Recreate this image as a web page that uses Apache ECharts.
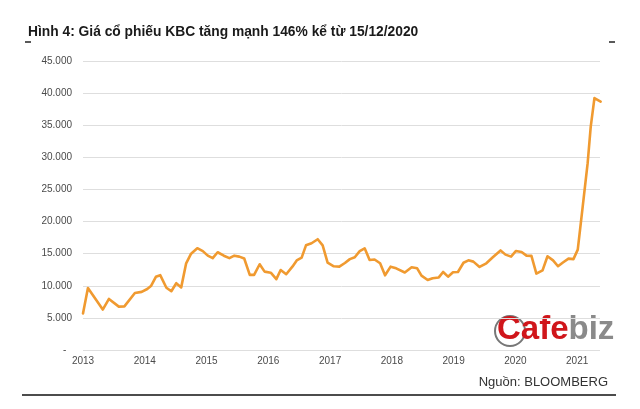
<!DOCTYPE html>
<html><head><meta charset="utf-8">
<script src="https://cdn.jsdelivr.net/npm/echarts@6/dist/echarts.min.js"></script>
<style>html,body{margin:0;padding:0;background:#fff}#c{width:640px;height:409px}</style>
</head><body><div id="c"></div>
<script>
// Time position of each traced point, in decimal years
const times = [
  2013.00, 2013.08, 2013.32, 2013.42, 2013.58, 2013.67, 2013.84, 2013.95,
  2014.04, 2014.10, 2014.18, 2014.25, 2014.35, 2014.43, 2014.51, 2014.59,
  2014.67, 2014.75, 2014.85, 2014.94, 2015.02, 2015.10, 2015.18, 2015.28,
  2015.37, 2015.45, 2015.53, 2015.61, 2015.70, 2015.77, 2015.86, 2015.94,
  2016.04, 2016.13, 2016.20, 2016.29, 2016.39, 2016.46, 2016.54, 2016.61,
  2016.70, 2016.80, 2016.88, 2016.96, 2017.06, 2017.15, 2017.24, 2017.32,
  2017.40, 2017.48, 2017.56, 2017.64, 2017.72, 2017.81, 2017.89, 2017.98,
  2018.07, 2018.21, 2018.32, 2018.41, 2018.48, 2018.58, 2018.66, 2018.76,
  2018.83, 2018.91, 2018.99, 2019.07, 2019.16, 2019.24, 2019.32, 2019.42,
  2019.53, 2019.63, 2019.76, 2019.84, 2019.93, 2020.01, 2020.10, 2020.18,
  2020.26, 2020.34, 2020.44, 2020.52, 2020.61, 2020.69, 2020.77, 2020.86,
  2020.94, 2021.01, 2021.09, 2021.17, 2021.22, 2021.28, 2021.38
];
// KBC share price (VND)
const prices = [
  5700, 9650, 6300, 7950, 6750, 6800, 8880, 9050,
  9500, 9950, 11400, 11650, 9700, 9150, 10400, 9750,
  13500, 15000, 15850, 15400, 14700, 14300, 15220, 14680,
  14300, 14690, 14540, 14250, 11690, 11690, 13350, 12200,
  12040, 11030, 12460, 11800, 12980, 13950, 14380, 16300,
  16620, 17250, 16300, 13600, 13040, 12980, 13550, 14150,
  14450, 15400, 15840, 14020, 14100, 13500, 11630, 12980,
  12720, 12070, 12880, 12720, 11580, 10900, 11170, 11300,
  12150, 11420, 12100, 12150, 13580, 13960, 13760, 12930,
  13500, 14400, 15500, 14850, 14540, 15420, 15270, 14690,
  14650, 11900, 12400, 14600, 13960, 13040, 13630, 14230,
  14150, 15630, 22330, 29090, 34790, 39220, 38680
];
const xStart = 2013, xEnd = 2021.37, xStep = 1;
const yMin = 0, yMax = 45000, yStep = 5000;
const titleText = 'Hình 4: Giá cổ phiếu KBC tăng mạnh 146% kể từ 15/12/2020';
const sourceText = 'Nguồn: BLOOMBERG';

const font = "'Liberation Sans', Arial, sans-serif";
const chart = echarts.init(document.getElementById('c'), null, {renderer: 'canvas'});
const data = times.map((t, i) => [t, prices[i]]);

chart.setOption({
  backgroundColor: '#fff',
  animation: false,
  title: {
    text: titleText, left: 23, top: 20,
    textStyle: {fontFamily: font, fontSize: 13.8, fontWeight: 'bold', color: '#1a1a1a'}
  },
  grid: {left: 83, right: 40, top: 61, bottom: 59, containLabel: false},
  xAxis: {
    type: 'value', min: xStart, max: xEnd, interval: xStep,
    axisLine: {show: false}, axisTick: {show: false}, splitLine: {show: false},
    axisLabel: {
      fontFamily: font, fontSize: 10, color: '#4a4a4a', margin: 6,
      showMaxLabel: false,
      formatter: v => String(Math.round(v))
    }
  },
  yAxis: {
    type: 'value', min: yMin, max: yMax, interval: yStep,
    axisLine: {show: false}, axisTick: {show: false},
    splitLine: {lineStyle: {color: '#dedede', width: 1}},
    axisLabel: {
      fontFamily: font, fontSize: 10, color: '#4a4a4a', margin: 11,
      formatter: v => v === 0 ? '-  ' : v.toLocaleString('de-DE')
    }
  },
  series: [{
    type: 'line', data: data, showSymbol: false, smooth: false,
    lineStyle: {color: '#F09A30', width: 2.6, join: 'round', cap: 'round'}
  }],
  graphic: [
    {type: 'line', shape: {x1: 25, y1: 42, x2: 31, y2: 42}, style: {stroke: '#222', lineWidth: 1.5}},
    {type: 'line', shape: {x1: 609, y1: 42, x2: 615, y2: 42}, style: {stroke: '#222', lineWidth: 1.5}},
    {type: 'line', shape: {x1: 22, y1: 395, x2: 616, y2: 395}, style: {stroke: '#111', lineWidth: 1.5}},
    {type: 'text', left: 'auto', right: 32, top: 376,
     style: {text: sourceText, font: "13px 'Liberation Sans', Arial, sans-serif", fill: '#333'}},
    {type: 'circle', shape: {cx: 510, cy: 331, r: 15}, style: {fill: 'none', stroke: '#777', lineWidth: 2}},
    {type: 'text', left: 497, top: 313,
     style: {
       text: '{a|Cafe}{b|biz}',
       rich: {
         a: {font: "bold 33px 'Liberation Sans', Arial, sans-serif", fill: '#d0161b'},
         b: {font: "bold 33px 'Liberation Sans', Arial, sans-serif", fill: '#8a8a8a'}
       }
     }}
  ]
});
</script>
</body></html>
